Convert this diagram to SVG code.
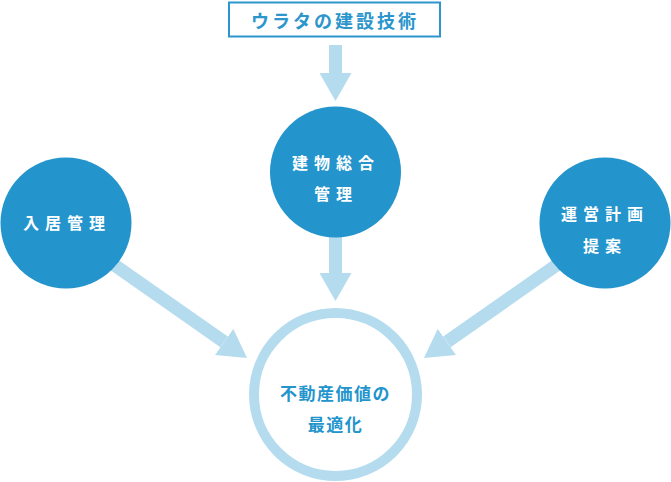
<svg xmlns="http://www.w3.org/2000/svg" width="671" height="482" viewBox="0 0 671 482">
<style>
.conn{stroke:#b5dcee;stroke-width:13;fill:none;stroke-linecap:butt}
.node{fill:#2394cc}
.wt{fill:#ffffff;font-family:"Noto Sans CJK JP","Noto Sans",sans-serif;font-weight:700;font-size:16px;letter-spacing:6px;text-anchor:middle;dominant-baseline:central}
.bt{fill:#2394cc;font-family:"Noto Sans CJK JP","Noto Sans",sans-serif;font-weight:700;font-size:17px;letter-spacing:1.5px;text-anchor:middle;dominant-baseline:central}
.tt{fill:#2b95cc;font-family:"Noto Sans CJK JP","Noto Sans",sans-serif;font-weight:700;font-size:18px;letter-spacing:3px;text-anchor:middle;dominant-baseline:central}
</style>
<defs>
<marker id="head" markerUnits="userSpaceOnUse" viewBox="0 0 28 32" markerWidth="28" markerHeight="32" refX="0" refY="16" orient="auto">
<path d="M0,0 L28,16 L0,32 Z" fill="#b5dcee"/>
</marker>
</defs>
<g id="connectors">
<line class="conn" x1="335.5" y1="45" x2="335.5" y2="73" marker-end="url(#head)"/>
<line class="conn" x1="335.5" y1="230" x2="335.5" y2="273" marker-end="url(#head)"/>
<line class="conn" x1="100" y1="255" x2="224.1" y2="341.9" marker-end="url(#head)"/>
<line class="conn" x1="571" y1="255" x2="446.9" y2="341.9" marker-end="url(#head)"/>
</g>
<g id="tech">
<rect x="229" y="2.5" width="211" height="34" fill="#ffffff" stroke="#2b95cc" stroke-width="2"/>
<text class="tt" x="335" y="20">ウラタの建設技術</text>
</g>
<g id="kenbutsu">
<circle class="node" cx="335.5" cy="172" r="65.5"/>
<text class="wt" x="336" y="162">建物総合</text>
<text class="wt" x="336" y="193">管理</text>
</g>
<g id="nyukyo">
<circle class="node" cx="66" cy="223" r="65.5"/>
<text class="wt" x="67" y="222">入居管理</text>
</g>
<g id="unei">
<circle class="node" cx="605" cy="223" r="65.5"/>
<text class="wt" x="605" y="213">運営計画</text>
<text class="wt" x="605" y="245">提案</text>
</g>
<g id="fudousan">
<circle cx="335.5" cy="394.5" r="81.5" fill="#ffffff" stroke="#b5dcee" stroke-width="10"/>
<text class="bt" x="335.5" y="392">不動産価値の</text>
<text class="bt" x="335.5" y="423">最適化</text>
</g>
</svg>
